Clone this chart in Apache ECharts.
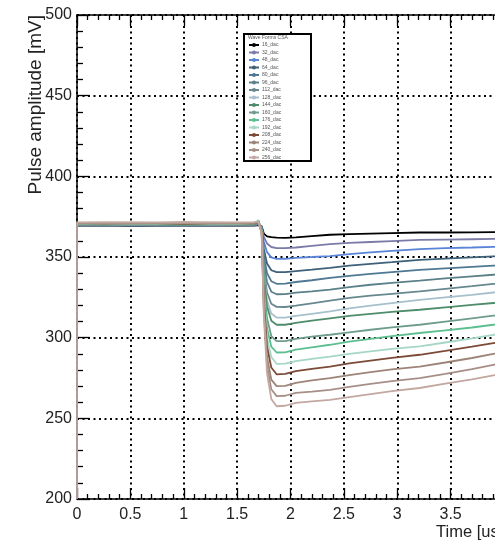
<!DOCTYPE html>
<html>
<head>
<meta charset="utf-8">
<script src="https://cdn.jsdelivr.net/npm/echarts@6/dist/echarts.min.js"></script>
<style>html,body{margin:0;padding:0;background:#fff;}#c{width:495px;height:544px;}</style>
</head>
<body>
<div id="c"></div>
<script>
const times = [0, 0.25, 0.5, 0.75, 1.0, 1.25, 1.5, 1.66, 1.70, 1.73, 1.75, 1.78, 1.82, 1.87, 1.95, 2.05, 2.2, 2.37, 2.55, 2.75, 2.95, 3.21, 3.45, 3.7, 3.9, 4.0];
const seriesNames = ['16_dac','32_dac','48_dac','64_dac','80_dac','96_dac','112_dac','128_dac','144_dac','160_dac','176_dac','192_dac','208_dac','224_dac','240_dac','256_dac'];
const s16  = [369.4,369.6,369.3,369.5,369.4,369.6,369.4,369.5,369.8,369.0,364.5,362.8,362.3,362.0,361.9,362.2,363.0,363.8,364.2,364.5,364.8,365.2,365.2,365.3,365.4,365.4];
const s32  = [369.6,369.7,369.5,369.8,369.6,369.5,369.7,369.6,370.3,369.0,362.5,358.4,356.2,355.5,355.5,355.9,356.9,358.0,358.7,359.3,359.9,360.6,360.8,361.0,361.2,361.3];
const s48  = [369.8,369.7,369.9,369.8,369.6,369.9,369.8,369.8,370.5,368.5,359.5,353.0,349.8,348.8,348.9,349.5,350.0,350.6,351.8,352.9,353.8,354.9,355.5,355.9,356.3,356.5];
const s64  = [369.6,369.8,369.5,369.7,369.6,369.8,369.6,369.7,370.5,368.0,355.0,346.0,341.8,340.6,340.6,341.3,342.2,343.3,344.6,345.8,346.8,348.2,349.0,349.8,350.4,350.7];
const s80  = [369.9,370.0,369.8,370.1,369.9,369.8,370.0,369.9,370.8,368.0,351.0,340.0,335.0,333.4,333.5,334.5,335.6,337.0,338.3,339.5,340.6,342.0,343.0,343.9,344.6,344.9];
const s96  = [370.0,370.1,369.9,370.0,370.2,369.9,370.0,370.1,371.0,367.5,347.0,334.5,328.5,326.9,327.0,327.9,328.7,329.8,331.3,332.8,334.0,335.4,336.8,338.0,339.0,339.4];
const s112 = [370.1,370.0,370.2,370.1,369.9,370.2,370.1,370.0,371.0,367.0,343.0,328.0,321.0,319.1,319.0,319.8,321.3,323.0,324.6,326.0,327.2,328.7,330.3,331.9,333.3,333.8];
const s128 = [370.2,370.3,370.1,370.2,370.4,370.1,370.2,370.3,371.3,367.0,340.0,323.0,315.0,312.5,312.4,313.5,314.8,316.3,318.2,319.8,321.4,323.4,325.0,326.5,328.0,328.6];
const s144 = [370.3,370.2,370.4,370.3,370.1,370.4,370.3,370.2,372.0,367.0,338.0,319.5,310.5,308.0,308.0,309.2,310.6,312.0,313.5,314.8,316.0,317.3,318.8,320.3,321.5,322.0];
const s160 = [370.4,370.5,370.3,370.4,370.6,370.3,370.4,370.5,372.0,366.5,333.0,312.0,301.0,297.8,297.8,299.3,300.6,301.8,303.3,304.9,306.4,308.0,310.0,312.0,313.6,314.2];
const s176 = [370.5,370.4,370.6,370.5,370.3,370.6,370.5,370.4,372.8,366.0,330.0,306.0,294.5,290.8,290.9,292.6,294.0,295.6,297.5,299.3,301.0,302.9,304.5,306.3,308.0,308.7];
const s192 = [370.6,370.7,370.5,370.6,370.8,370.5,370.6,370.7,372.3,366.0,327.0,300.0,288.0,283.8,283.9,285.4,286.8,288.3,290.0,291.5,293.0,294.6,297.0,299.5,301.8,302.6];
const s208 = [370.8,370.7,370.9,370.8,370.6,370.9,370.8,370.7,371.8,365.5,324.0,294.5,281.5,277.3,277.5,279.3,280.7,282.1,284.0,285.8,287.5,289.4,291.8,294.4,296.6,297.4];
const s224 = [371.0,371.1,370.9,371.0,371.2,370.9,371.0,371.1,371.8,365.0,320.0,288.0,274.0,270.0,270.1,272.0,273.5,274.9,276.8,278.6,280.3,282.1,284.6,287.4,290.0,291.0];
const s240 = [371.2,371.1,371.3,371.2,371.0,371.3,371.2,371.1,371.8,365.0,317.0,283.0,268.0,263.8,264.0,265.8,266.6,267.7,269.5,271.3,273.0,274.9,277.6,280.5,283.2,284.2];
const s256 = [371.5,371.6,371.4,371.5,371.7,371.4,371.5,371.6,371.9,364.5,314.0,278.0,262.0,257.5,257.8,259.6,260.5,261.5,263.2,265.0,266.8,268.8,271.5,274.2,276.6,277.6];
const lead256 = [0, 200];
const xTicks = [0, 4, 0.5];
const yTicks = [200, 500, 50];

const values = [s16,s32,s48,s64,s80,s96,s112,s128,s144,s160,s176,s192,s208,s224,s240,s256];
const colors = ['#000000','#7b7ba8','#5a84d6','#3e6079','#4f7892','#5c8089','#67888f','#a8c0cc','#4f8c69','#6f9c8d','#5dbf90','#a6d6c4','#7c4a38','#9c8578','#a68f87','#c2a8a0'];

const series = values.map((v, i) => {
  let data = times.map((t, k) => [t, v[k]]);
  if (i === values.length - 1) data = [lead256].concat(data);
  return {
    name: seriesNames[i], type: 'line', data: data, symbol: 'none',
    lineStyle: {color: colors[i], width: 1.8}, itemStyle: {color: colors[i]},
    animation: false, z: 2
  };
});

const chart = echarts.init(document.getElementById('c'), null, {renderer: 'canvas'});
const axisTxt = {color: '#222', fontSize: 16, fontFamily: 'Liberation Sans, Arial, sans-serif'};
chart.setOption({
  animation: false,
  backgroundColor: '#fff',
  grid: {left: 77, top: 15, width: 427, height: 484, outerBoundsMode: 'none', containLabel: false},
  xAxis: [{
    type: 'value', min: xTicks[0], max: xTicks[1], interval: xTicks[2],
    axisLine: {show: true, lineStyle: {color: '#000', width: 1.5}},
    axisTick: {show: true, inside: true, length: 11, lineStyle: {color: '#000', width: 1.3}},
    minorTick: {show: true, splitNumber: 5, length: 5, lineStyle: {color: '#000', width: 1.3}},
    axisLabel: Object.assign({margin: 8, formatter: v => String(v)}, axisTxt),
    splitLine: {show: true, lineStyle: {color: '#000', type: [2, 3.5], width: 2}}
  }, {
    type: 'value', position: 'top', min: xTicks[0], max: xTicks[1], interval: xTicks[2],
    axisLine: {show: true, lineStyle: {color: '#000', width: 1.5}},
    axisTick: {show: true, inside: true, length: 11, lineStyle: {color: '#000', width: 1.3}},
    minorTick: {show: true, splitNumber: 5, length: 5, lineStyle: {color: '#000', width: 1.3}},
    axisLabel: {show: false}, splitLine: {show: false}
  }],
  yAxis: {
    type: 'value', min: yTicks[0], max: yTicks[1], interval: yTicks[2],
    axisLine: {show: true, lineStyle: {color: '#000', width: 1.5}},
    axisTick: {show: true, inside: true, length: 13, lineStyle: {color: '#000', width: 1.3}},
    minorTick: {show: true, splitNumber: 5, length: 6, lineStyle: {color: '#000', width: 1.3}},
    axisLabel: Object.assign({margin: 5}, axisTxt),
    splitLine: {show: true, lineStyle: {color: '#000', type: [2, 3.5], width: 2}}
  },
  legend: {
    orient: 'vertical', left: 248, top: 42.5, z: 10,
    itemWidth: 10, itemHeight: 5, itemGap: 2.5, padding: 0,
    data: seriesNames,
    textStyle: {fontSize: 5, lineHeight: 5, color: '#555', fontFamily: 'Liberation Sans, Arial, sans-serif', padding: [0, 0, 0, -2]}
  },
  graphic: [
    {type: 'rect', z: 8, shape: {x: 244, y: 34, width: 67, height: 127}, style: {fill: '#fff', stroke: '#000', lineWidth: 2}},
    {type: 'text', z: 9, x: 248, y: 37.5, style: {text: 'Wave Forms CSA', fontSize: 5, fill: '#555', fontFamily: 'Liberation Sans, Arial, sans-serif', verticalAlign: 'middle'}},
    {type: 'text', z: 9, x: 35.5, y: 15, rotation: Math.PI / 2, style: {text: 'Pulse amplitude [mV]', fontSize: 19, fill: '#222', fontFamily: 'Liberation Sans, Arial, sans-serif', align: 'right', verticalAlign: 'middle'}},
    {type: 'text', z: 9, x: 436, y: 532, style: {text: 'Time [us]', fontSize: 16.5, fill: '#222', fontFamily: 'Liberation Sans, Arial, sans-serif', align: 'left', verticalAlign: 'middle'}}
  ],
  series: series
});
</script>
</body>
</html>
